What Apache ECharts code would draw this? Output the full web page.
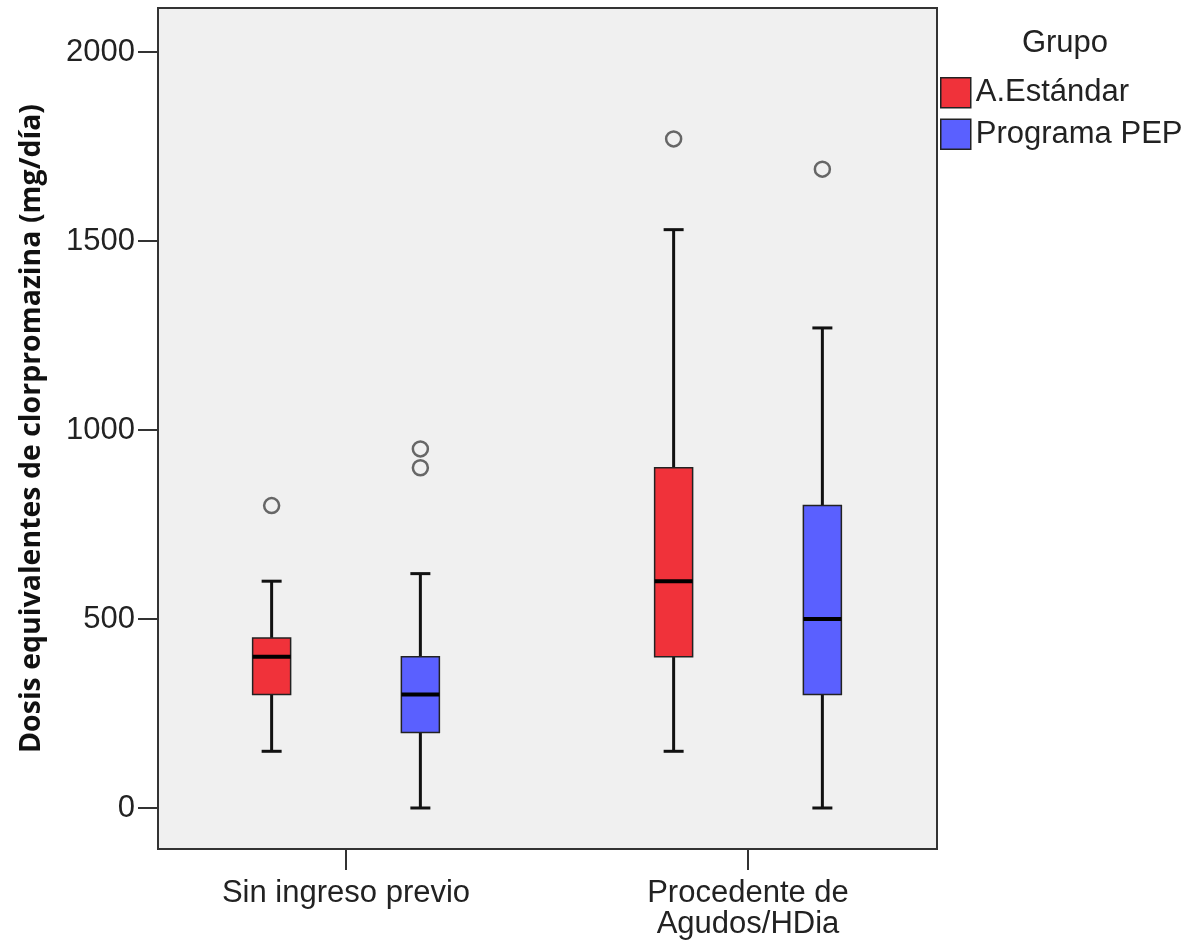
<!DOCTYPE html>
<html>
<head>
<meta charset="utf-8">
<script src="https://cdn.jsdelivr.net/npm/echarts@6/dist/echarts.min.js"></script>
<style>
  html, body { margin: 0; padding: 0; background: #fff; }
  #chart { width: 1198px; height: 945px; }
</style>
</head>
<body>
<div id="chart"></div>
<script>
// categorías del eje X
const categories = ['Sin ingreso previo', 'Procedente de\nAgudos/HDia']
const groups = ['A.Estándar', 'Programa PEP']
const yTicks = [0, 500, 1000, 1500, 2000]

// [min, Q1, mediana, Q3, max] por categoría
const estandarBox = [
  [150, 300, 400, 450, 600],
  [150, 400, 600, 900, 1530]
]
const pepBox = [
  [0, 200, 300, 400, 620],
  [0, 300, 500, 800, 1270]
]
// valores atípicos por categoría
const estandarOutliers = [[800], [1770]]
const pepOutliers = [[900, 950], [1690]]

const colors = ['#f0323a', '#5a60ff']
const groupOffset = [-0.185, 0.185]

const boxData = (boxes, g) => boxes.map((b, i) => [i + 1 + groupOffset[g]].concat(b))
const outlierData = (outs, g) => {
  const arr = []
  outs.forEach((vals, i) => vals.forEach(v => arr.push([i + 1 + groupOffset[g], v])))
  return arr
}

const renderBox = (params, api) => {
  const x = api.value(0)
  const pMin = api.coord([x, api.value(1)])
  const pQ1 = api.coord([x, api.value(2)])
  const pMed = api.coord([x, api.value(3)])
  const pQ3 = api.coord([x, api.value(4)])
  const pMax = api.coord([x, api.value(5)])
  const cx = pMin[0]
  const hb = 19 // media anchura de la caja
  const hc = 10 // media anchura del bigote
  const lineStyle = { stroke: '#111', lineWidth: 3 }
  return {
    type: 'group',
    children: [
      { type: 'line', shape: { x1: cx, y1: pMin[1], x2: cx, y2: pQ1[1] }, style: lineStyle },
      { type: 'line', shape: { x1: cx, y1: pQ3[1], x2: cx, y2: pMax[1] }, style: lineStyle },
      { type: 'line', shape: { x1: cx - hc, y1: pMin[1], x2: cx + hc, y2: pMin[1] }, style: lineStyle },
      { type: 'line', shape: { x1: cx - hc, y1: pMax[1], x2: cx + hc, y2: pMax[1] }, style: lineStyle },
      {
        type: 'rect',
        shape: { x: cx - hb, y: pQ3[1], width: hb * 2, height: pQ1[1] - pQ3[1] },
        style: { fill: api.visual('color'), stroke: '#222', lineWidth: 1.5 }
      },
      { type: 'line', shape: { x1: cx - hb, y1: pMed[1], x2: cx + hb, y2: pMed[1] }, style: { stroke: '#000', lineWidth: 4 } }
    ]
  }
}

const chart = echarts.init(document.getElementById('chart'))
const fontFamily = 'Liberation Sans'

const option = {
  animation: false,
  backgroundColor: '#fff',
  title: {
    text: 'Grupo',
    left: 1065,
    top: 28,
    textAlign: 'center',
    padding: 0,
    textStyle: { fontSize: 31, fontWeight: 'normal', color: '#222', fontFamily }
  },
  legend: {
    data: groups,
    orient: 'vertical',
    left: 940,
    top: 77,
    padding: 0,
    itemWidth: 30,
    itemHeight: 30,
    itemGap: 10,
    icon: 'rect',
    itemStyle: { borderColor: '#222', borderWidth: 1.5 },
    textStyle: { fontSize: 31, color: '#222', fontFamily }
  },
  grid: {
    left: 158,
    right: 261,
    top: 8,
    bottom: 96,
    show: true,
    backgroundColor: '#f0f0f0',
    borderColor: '#333',
    borderWidth: 2
  },
  xAxis: {
    type: 'value',
    min: 0.53234,
    max: 2.47015,
    splitLine: { show: false },
    axisLine: { show: true, onZero: false, lineStyle: { color: '#333', width: 2 } },
    axisTick: { show: true, length: 21, customValues: [1, 2], lineStyle: { color: '#333', width: 2 } },
    axisLabel: {
      customValues: [1, 2],
      formatter: v => categories[Math.round(v) - 1],
      fontSize: 31,
      lineHeight: 31,
      margin: 29,
      color: '#222',
      fontFamily
    }
  },
  yAxis: {
    type: 'value',
    min: -108.5,
    max: 2116.4,
    name: 'Dosis equivalentes de clorpromazina (mg/día)',
    nameLocation: 'middle',
    nameRotate: 90,
    nameGap: 112,
    nameTextStyle: { fontSize: 28.5, fontWeight: 'bold', color: '#111', fontFamily: 'Open Sans' },
    splitLine: { show: false },
    axisLine: { show: true, onZero: false, lineStyle: { color: '#333', width: 2 } },
    axisTick: { show: true, length: 20, customValues: yTicks, lineStyle: { color: '#333', width: 2 } },
    axisLabel: { customValues: yTicks, formatter: v => String(v), fontSize: 31, margin: 23, color: '#222', fontFamily }
  },
  series: [
    {
      name: groups[0],
      type: 'custom',
      renderItem: renderBox,
      itemStyle: { color: colors[0] },
      encode: { x: 0, y: [1, 2, 3, 4, 5] },
      data: boxData(estandarBox, 0)
    },
    {
      name: groups[1],
      type: 'custom',
      renderItem: renderBox,
      itemStyle: { color: colors[1] },
      encode: { x: 0, y: [1, 2, 3, 4, 5] },
      data: boxData(pepBox, 1)
    },
    {
      name: 'atípicos ' + groups[0],
      type: 'scatter',
      symbol: 'circle',
      symbolSize: 15,
      itemStyle: { color: '#f0f0f0', borderColor: '#444', borderWidth: 2.5 },
      data: outlierData(estandarOutliers, 0)
    },
    {
      name: 'atípicos ' + groups[1],
      type: 'scatter',
      symbol: 'circle',
      symbolSize: 15,
      itemStyle: { color: '#f0f0f0', borderColor: '#444', borderWidth: 2.5 },
      data: outlierData(pepOutliers, 1)
    }
  ]
}

chart.setOption(option)
window.addEventListener('resize', function () {
  chart.resize()
})
</script>
</body>
</html>
